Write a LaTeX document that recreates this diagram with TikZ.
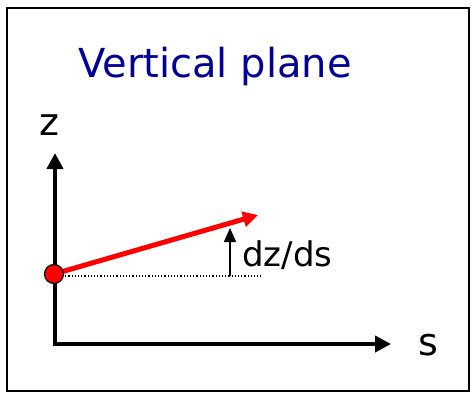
\documentclass[tikz,border=0pt]{standalone}
\usepackage{fontspec}
\setmainfont{DejaVu Sans}
\usetikzlibrary{arrows.meta}
\definecolor{titleblue}{RGB}{0,0,153}
\tikzset{
  axis/.style={line width=4pt,-{Triangle[length=16pt,width=16pt]}},
  redarrow/.style={red,line width=5pt,-{Triangle[length=15pt,width=15pt]}},
  smallarrow/.style={line width=1.5pt,-{Triangle[length=14pt,width=12pt]}},
  lbl/.style={inner sep=0pt}
}
\begin{document}
\begin{tikzpicture}[x=1pt,y=-1pt]
\useasboundingbox (0,0) rectangle (471,396);
\draw[line width=1.5pt] (7,8) rectangle (469,391);
\node[lbl,text=titleblue,font=\fontsize{40}{44}\selectfont] (title) at (215,66) {Vertical plane};
\coordinate (O) at (55,344);
\coordinate (ztip) at (55,153);
\coordinate (stip) at (391,344);
\draw[axis] (55,346) -- (ztip);
\draw[axis] (53,344) -- (stip);
\node[lbl,font=\fontsize{38}{42}\selectfont] (z) at (49,125) {z};
\node[lbl,font=\fontsize{38}{42}\selectfont] (s) at (428,345) {s};
\coordinate (P) at (54,274);
\coordinate (dotend) at (261,276);
\draw[dotted,line width=1.2pt] (62,276) -- (dotend);
\coordinate (base) at (230,276);
\coordinate (up) at (230,228);
\draw[smallarrow] (base) -- (up);
\coordinate (rtip) at (258,215);
\draw[redarrow] (P) -- (rtip);
\node[circle,fill=red,draw=black,line width=1.2pt,minimum size=19pt,inner sep=0pt] (dot) at (P) {};
\node[lbl,anchor=west,font=\fontsize{34}{38}\selectfont] (dzds) at (242,255) {dz/ds};
\end{tikzpicture}
\end{document}
